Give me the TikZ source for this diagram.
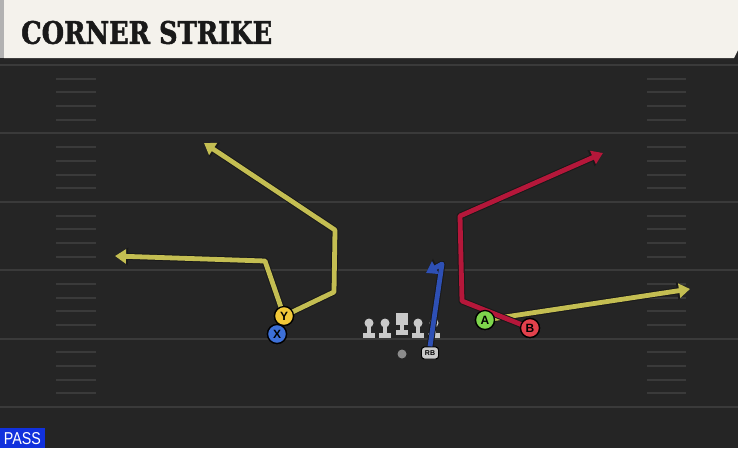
\documentclass[tikz,border=0pt]{standalone}
\usepackage{fontspec}
\setmainfont{Liberation Serif}
\setsansfont{Liberation Sans}
\newfontfamily\titlefont{DejaVu Serif Condensed Bold}[FakeBold=1.5]
\usetikzlibrary{arrows.meta}

\definecolor{field}{HTML}{252525}
\definecolor{yardline}{HTML}{3A3A3A}
\definecolor{banner}{HTML}{F4F2EC}
\definecolor{routeyellow}{HTML}{C4BE52}
\definecolor{routered}{HTML}{B5173A}
\definecolor{routeblue}{HTML}{2E50B5}
\definecolor{playeryellow}{HTML}{F2C838}
\definecolor{playerblue}{HTML}{3D70D8}
\definecolor{playergreen}{HTML}{7ED64C}
\definecolor{playerred}{HTML}{E2414C}
\definecolor{lineman}{HTML}{C9C9C9}
\definecolor{passblue}{HTML}{1131DD}

\tikzset{
  routeline/.style={line width=4.8pt, line join=round, -{Triangle[width=14pt,length=11pt]}},
  routeedge/.style={line width=6.8pt, line join=round, draw=black!90, -{Triangle[width=17pt,length=13pt]}},
  player/.style={circle, draw=black, line width=1.3pt, minimum size=19pt, inner sep=0pt,
                 font=\sffamily\bfseries\fontsize{12}{12}\selectfont},
  rbbox/.style={rounded corners=3pt, fill=lineman, draw=black, line width=0.9pt, inner sep=0pt,
                minimum width=17pt, minimum height=12pt, font=\sffamily\bfseries\fontsize{7}{7}\selectfont},
  hashmark/.style={draw=yardline, line width=2pt},
  linemanpic/.pic={
    \fill[lineman] (-2.3,-6) rectangle (2.3,6);
    \fill[lineman] (-6,3.5) rectangle (6,8.5);
    \fill[lineman] (0,-6) circle (4.5pt);
  }
}

\begin{document}
\begin{tikzpicture}[x=1pt,y=-1pt]
  \useasboundingbox (0,0) rectangle (738,448);
  % field
  \fill[field] (0,0) rectangle (738,448);
  \foreach \k in {0,...,5}
    \draw[yardline, line width=2pt] (0,65+68.4*\k) -- (738,65+68.4*\k);
  \foreach \k in {0,...,4}
    \foreach \j in {1,...,4} {
      \draw[hashmark] (56,65+68.4*\k+13.7*\j) -- (96,65+68.4*\k+13.7*\j);
      \draw[hashmark] (647,65+68.4*\k+13.7*\j) -- (686,65+68.4*\k+13.7*\j);
    }

  % banner
  \fill[black!85] (0,56) rectangle (738,62);
  \fill[black!30] (0,0) rectangle (4,58);
  \fill[banner] (4,0) -- (738,0) -- (738,50) -- (734,58) -- (4,58) -- cycle;
  \node[anchor=west, inner sep=0pt, text=black!90] (title) at (21,32.5)
    {\resizebox{251pt}{23pt}{\titlefont CORNER STRIKE}};

  % players
  \node[player, fill=playeryellow] (Y) at (284,316) {Y};
  \node[player, fill=playerblue] (X) at (277,334) {X};
  \node[player, fill=playergreen] (A) at (485,320) {A};
  \node[player, fill=playerred] (B) at (530,328) {B};
  \node[rbbox] (RB) at (430,353) {RB};
  \node[circle, fill=black!45, inner sep=0pt, minimum size=9pt] (ball) at (402,354) {};

  % route waypoints
  \coordinate (y1) at (334,292);
  \coordinate (y2) at (335,230);
  \coordinate (y3) at (204,143);
  \coordinate (y4) at (265,261);
  \coordinate (y5) at (115,256);
  \coordinate (r1) at (462,301);
  \coordinate (r2) at (460,216);
  \coordinate (r3) at (603,153);
  \coordinate (a1) at (690,289);
  \coordinate (b1) at (442,264);
  \coordinate (b2) at (426,273);

  % routes
  \draw[routeedge] (Y.center) -- (y1) -- (y2) -- (y3);
  \draw[routeline, routeyellow] (Y.center) -- (y1) -- (y2) -- (y3);
  \draw[routeedge] (Y.center) -- (y4) -- (y5);
  \draw[routeline, routeyellow] (Y.center) -- (y4) -- (y5);
  \draw[routeedge] (A.center) -- (a1);
  \draw[routeline, routeyellow] (A.center) -- (a1);
  \draw[routeedge] (B.center) -- (r1) -- (r2) -- (r3);
  \draw[routeline, routered] (B.center) -- (r1) -- (r2) -- (r3);

  % line
  \pic at (369,329) {linemanpic};
  \pic at (385,329) {linemanpic};
  \fill[lineman] (399.7,322) rectangle (404.3,334);
  \fill[lineman] (396,329.5) rectangle (408,334.5);
  \fill[lineman] (396,313) rectangle (408,325);
  \pic at (418,329) {linemanpic};
  \pic at (434,329) {linemanpic};

  \draw[routeedge] (RB.north) -- (b1) -- (b2);
  \draw[routeline, routeblue] (RB.north) -- (b1) -- (b2);

  % redraw players on top of routes
  \node[player, fill=playeryellow] at (Y) {Y};
  \node[player, fill=playerblue] at (X) {X};
  \node[player, fill=playergreen] at (A) {A};
  \node[player, fill=playerred] at (B) {B};
  \node[rbbox] at (RB) {RB};

  % play type
  \fill[passblue] (0,428) rectangle (45,448);
  \node[inner sep=0pt, text=white] (pass) at (22.5,438.5) {\resizebox{37pt}{12pt}{\sffamily PASS}};
\end{tikzpicture}
\end{document}
